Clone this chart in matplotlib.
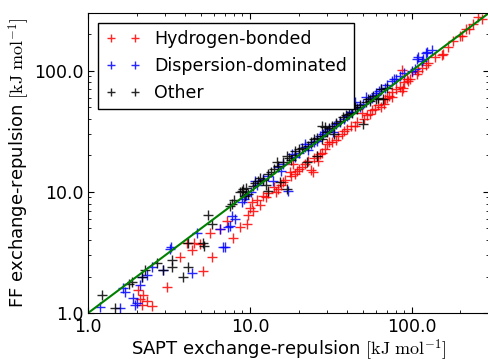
import matplotlib
matplotlib.use('Agg')
import matplotlib.pyplot as plt
from matplotlib.ticker import FormatStrFormatter, NullFormatter

plt.rcParams['mathtext.fontset'] = 'cm'
plt.rcParams['xtick.direction'] = 'in'
plt.rcParams['ytick.direction'] = 'in'

# SAPT (x) vs FF (y) exchange-repulsion, kJ/mol
hb_sapt = [2.04, 2.15, 2.2, 2.3, 2.48, 2.1, 3.07, 3.7, 4.4, 4.5, 5.1, 5.8, 5.7, 6.5, 7.2,
           7.9, 8.7, 4.1, 4.9, 9.6, 9.7, 10.0, 10.3, 12.0, 11.0, 13.0, 14.0, 15.0, 16.0,
           17.6, 18.4, 19.0, 20.0, 22.0, 24.0, 24.5, 26.3, 26.0, 29.0, 30.0, 27.0, 31.0,
           37.0, 38.0, 44.5, 49.0, 51.0, 55.0, 59.0, 65.0, 67.0, 68.0, 75.0, 76.0, 87.0,
           88.0, 87.0, 90.0, 94.0, 95.0, 98.0, 100.0, 108.0, 123.0, 126.0, 153.0, 155.0,
           167.0, 198.0, 205.0, 217.0, 225.0, 255.0, 270.0,
           10.5, 11.5, 12.5, 14.5, 15.5, 16.5, 18.0, 19.5, 21.0, 23.0, 25.0, 28.0, 32.0,
           34.0, 35.0, 40.0, 42.0, 46.0, 53.0, 57.0, 62.0, 70.0, 72.0, 80.0, 84.0, 110.0,
           115.0, 140.0, 180.0, 240.0]
hb_ff = [1.55, 1.16, 1.41, 1.25, 1.14, 1.3, 1.64, 2.9, 3.3, 3.8, 2.23, 2.9, 4.6, 4.9, 5.7,
         4.2, 5.1, 3.8, 3.7, 5.4, 6.5, 7.4, 8.2, 9.2, 8.5, 9.8, 11.0, 10.5, 12.0,
         14.5, 16.9, 14.0, 15.5, 17.0, 15.3, 14.6, 17.9, 19.7, 22.5, 24.8, 20.5, 25.7,
         30.0, 32.0, 35.0, 45.0, 40.0, 44.0, 48.0, 50.0, 53.0, 58.0, 67.0, 61.0, 68.0,
         72.0, 101.0, 81.0, 86.0, 82.0, 85.0, 98.0, 94.0, 112.0, 115.0, 135.0, 138.0,
         158.0, 192.0, 195.0, 222.0, 222.0, 280.0, 265.0,
         7.0, 7.8, 9.0, 10.0, 11.5, 12.5, 13.5, 15.0, 16.0, 18.0, 19.0, 21.0, 26.0,
         27.0, 29.0, 33.0, 35.0, 38.0, 43.0, 47.0, 52.0, 60.0, 62.0, 70.0, 73.0, 100.0,
         105.0, 130.0, 175.0, 245.0]

disp_sapt = [1.19, 1.58, 1.65, 1.7, 1.9, 1.95, 2.0, 2.1, 2.15, 2.3, 2.5, 2.9, 3.2, 3.25,
             4.4, 4.7, 6.5, 6.8, 7.0, 7.3, 7.5, 7.7, 8.1, 9.0, 9.5, 10.2, 10.7, 13.8,
             14.9, 17.2, 18.1, 20.0, 21.8, 23.0, 25.0, 28.2, 27.0, 30.0, 32.5, 33.0, 36.0,
             40.0, 42.0, 44.5, 48.0, 52.5, 55.0, 60.0, 63.0, 68.0, 75.0, 78.0, 85.0, 90.0,
             100.0, 104.0, 115.0, 117.0, 125.0, 134.0,
             9.2, 11.0, 12.0, 13.0, 15.5, 16.0, 19.0, 22.0, 24.0, 26.0, 29.0, 31.0, 34.0,
             38.0, 43.0, 46.0, 50.0, 57.0, 65.0, 70.0, 80.0, 110.0, 108.0, 122.0, 60.0]
disp_ff = [1.12, 1.10, 1.61, 1.5, 1.33, 1.16, 1.2, 1.71, 2.0, 2.05, 2.4, 2.27, 3.4, 3.5,
           2.15, 4.6, 4.9, 3.5, 3.5, 5.1, 5.2, 6.3, 6.0, 8.3, 9.5, 10.0, 12.2, 12.2,
           16.0, 10.1, 20.5, 21.0, 24.8, 22.0, 26.0, 30.0, 28.8, 32.0, 31.0, 35.0, 37.7,
           42.0, 46.0, 55.0, 50.0, 61.0, 58.0, 63.0, 68.0, 72.0, 82.0, 85.0, 90.0, 95.0,
           100.0, 103.0, 121.0, 126.0, 143.0, 149.0,
           8.8, 11.5, 12.8, 13.5, 15.0, 17.0, 19.5, 23.5, 25.0, 26.5, 31.0, 33.0, 36.0,
           40.0, 46.0, 49.0, 53.0, 60.0, 70.0, 76.0, 86.0, 130.0, 125.0, 140.0, 65.0]

other_sapt = [1.22, 1.47, 1.87, 1.8, 2.15, 2.25, 2.67, 2.9, 3.3, 3.3, 3.86, 4.14, 4.14,
              5.1, 5.2, 5.5, 5.8, 7.5, 7.7, 8.7, 9.1, 9.3, 9.8, 8.9, 10.4, 12.9, 12.6,
              15.3, 16.9, 14.7, 16.9, 19.0, 22.5, 26.0, 27.7, 29.0, 28.0, 30.0, 37.5,
              39.0, 44.5, 49.8, 46.0, 55.0, 60.0, 33.0, 24.0, 21.0, 11.5, 13.5, 18.0,
              53.6, 66.0, 65.0,
              8.0, 9.5, 10.8, 11.2, 12.0, 13.0, 14.0, 15.0, 16.0, 17.5, 19.0, 20.0, 23.0,
              25.0, 26.0, 28.0, 31.0, 32.0, 34.0, 36.0, 41.0, 43.0, 48.0, 52.0, 58.0,
              62.0, 70.0]
other_ff = [1.41, 1.10, 1.81, 1.75, 1.99, 2.27, 2.6, 2.27, 2.75, 2.41, 1.99, 2.41, 3.81,
            3.8, 3.6, 6.4, 5.4, 7.6, 7.9, 9.9, 10.5, 9.3, 9.6, 10.1, 11.1, 10.1, 11.5,
            12.0, 10.5, 17.6, 19.7, 21.7, 17.6, 19.7, 27.3, 34.0, 35.0, 31.0, 41.5,
            43.0, 50.0, 36.3, 48.0, 56.0, 58.0, 30.0, 26.0, 23.0, 13.0, 14.5, 18.5,
            58.0, 58.0, 70.0,
            8.5, 10.8, 11.8, 12.2, 12.5, 14.0, 15.5, 16.5, 17.5, 19.0, 20.0, 22.5, 24.0,
            27.5, 28.0, 29.0, 33.5, 35.0, 37.0, 38.5, 44.0, 45.0, 52.0, 55.0, 62.0,
            60.0, 72.0]

fig = plt.figure(figsize=(4.89, 3.59), dpi=100)
ax = fig.add_axes([0.18, 0.128, 0.82, 0.836])

ax.plot(hb_sapt, hb_ff, 'r+', ms=7, mew=1.0, alpha=0.85, label='Hydrogen-bonded')
ax.plot(disp_sapt, disp_ff, 'b+', ms=7, mew=1.0, alpha=0.85, label='Dispersion-dominated')
ax.plot(other_sapt, other_ff, 'k+', ms=7, mew=1.0, alpha=0.85, label='Other')
ax.plot([1, 300], [1, 300], color='green', lw=1.5)

ax.set_xscale('log')
ax.set_yscale('log')
ax.set_xlim(1, 300)
ax.set_ylim(1, 300)
for axis in (ax.xaxis, ax.yaxis):
    axis.set_major_formatter(FormatStrFormatter('%.1f'))
    axis.set_minor_formatter(NullFormatter())
ax.tick_params(which='both', top=True, right=True, labelsize=12.5)
ax.tick_params(which='major', length=4)
ax.tick_params(which='minor', length=2)

ax.set_xlabel(r'SAPT exchange-repulsion $[\mathrm{kJ\ mol}^{-1}]$', fontsize=13, labelpad=1)
ax.set_ylabel(r'FF exchange-repulsion $[\mathrm{kJ\ mol}^{-1}]$', fontsize=13, labelpad=1)

leg = ax.legend(loc='upper left', numpoints=2, fancybox=False, fontsize=12.5,
                framealpha=1, edgecolor='black', borderaxespad=0.6, markerscale=0.8)
leg.get_frame().set_linewidth(1.0)

fig.savefig('out.png', dpi=100)
